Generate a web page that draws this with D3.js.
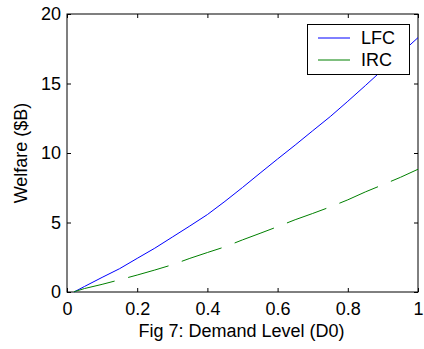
<!DOCTYPE html>
<html><head><meta charset="utf-8">
<script src="https://cdn.jsdelivr.net/npm/d3@7"></script>
<style>body{margin:0;background:#fff}svg text{font-family:Arial,"Liberation Sans",sans-serif}</style>
</head><body>
<svg id="c" width="424" height="349"></svg>
<script>
const demand = [0.02,0.05,0.1,0.15,0.2,0.25,0.3,0.35,0.4,0.45,0.5,0.55,0.6,0.65,0.7,0.75,0.8,0.85,0.9,0.95,1.0];
const lfc = [0,0.4,1.05,1.68,2.42,3.15,3.95,4.75,5.57,6.52,7.52,8.55,9.57,10.57,11.6,12.62,13.72,14.85,16.0,17.15,18.3];
const irc = [0.02,0.25,0.55,0.88,1.22,1.58,1.96,2.42,2.84,3.25,3.75,4.22,4.7,5.2,5.65,6.12,6.63,7.2,7.72,8.25,8.83];
const xTicks = [0,0.2,0.4,0.6,0.8,1];
const yTicks = [0,5,10,15,20];
const seriesNames = ["LFC","IRC"];
const seriesColors = ["#0000ff","#008000"];
const xLabel = "Fig 7: Demand Level (D0)";
const yLabel = "Welfare ($B)";

const svg = d3.select("#c");
const L=67,R=418,T=14,B=292;
const x = d3.scaleLinear().domain([0,1]).range([L,R]);
const y = d3.scaleLinear().domain([0,20]).range([B,T]);
const fs = 18;

svg.append("rect").attr("x",L).attr("y",T).attr("width",R-L).attr("height",B-T)
  .attr("fill","none").attr("stroke","#000").attr("stroke-width",1);

const tl = 4;
const ax = d3.axisBottom(x).tickValues(xTicks).tickFormat(d3.format("")).tickSizeInner(-tl).tickSizeOuter(0).tickPadding(10);
const gx = svg.append("g").attr("transform",`translate(0,${B})`).call(ax);
const ay = d3.axisLeft(y).tickValues(yTicks).tickSizeInner(-tl).tickSizeOuter(0).tickPadding(6);
const gy = svg.append("g").attr("transform",`translate(${L},0)`).call(ay);
const axT = d3.axisTop(x).tickValues(xTicks).tickFormat("").tickSizeInner(-tl).tickSizeOuter(0);
const gt = svg.append("g").attr("transform",`translate(0,${T})`).call(axT);
const ayR = d3.axisRight(y).tickValues(yTicks).tickFormat("").tickSizeInner(-tl).tickSizeOuter(0);
const gr = svg.append("g").attr("transform",`translate(${R},0)`).call(ayR);
[gx,gy,gt,gr].forEach(g=>{
  g.select(".domain").remove();
  g.selectAll("line").attr("stroke","#000");
  g.selectAll("text").attr("font-size",fs).attr("fill","#000").style("font-family","Arial, 'Liberation Sans', sans-serif");
});

const line = d3.line().x((d,i)=>x(demand[i])).y(d=>y(d));
svg.append("path").datum(lfc).attr("d",line).attr("fill","none").attr("stroke",seriesColors[0]).attr("stroke-width",1);
svg.append("path").datum(irc).attr("d",line).attr("fill","none").attr("stroke",seriesColors[1]).attr("stroke-width",1).attr("stroke-dasharray","42,14");

svg.append("text").attr("x",(L+R)/2-1).attr("y",337).attr("text-anchor","middle").attr("font-size",fs).text(xLabel);
svg.append("text").attr("transform",`translate(27,${(T+B)/2}) rotate(-90)`).attr("text-anchor","middle").attr("font-size",fs).text(yLabel);

const lg = svg.append("g");
lg.append("rect").attr("x",307.5).attr("y",24.5).attr("width",102).attr("height",50).attr("fill","#fff").attr("stroke","#000");
seriesNames.forEach((n,i)=>{
  const yy = 38+i*22;
  lg.append("line").attr("x1",318).attr("x2",350).attr("y1",yy).attr("y2",yy).attr("stroke",seriesColors[i]).attr("stroke-width",1);
  lg.append("text").attr("x",361).attr("y",yy+6).attr("font-size",fs).text(n);
});
</script>
</body></html>
